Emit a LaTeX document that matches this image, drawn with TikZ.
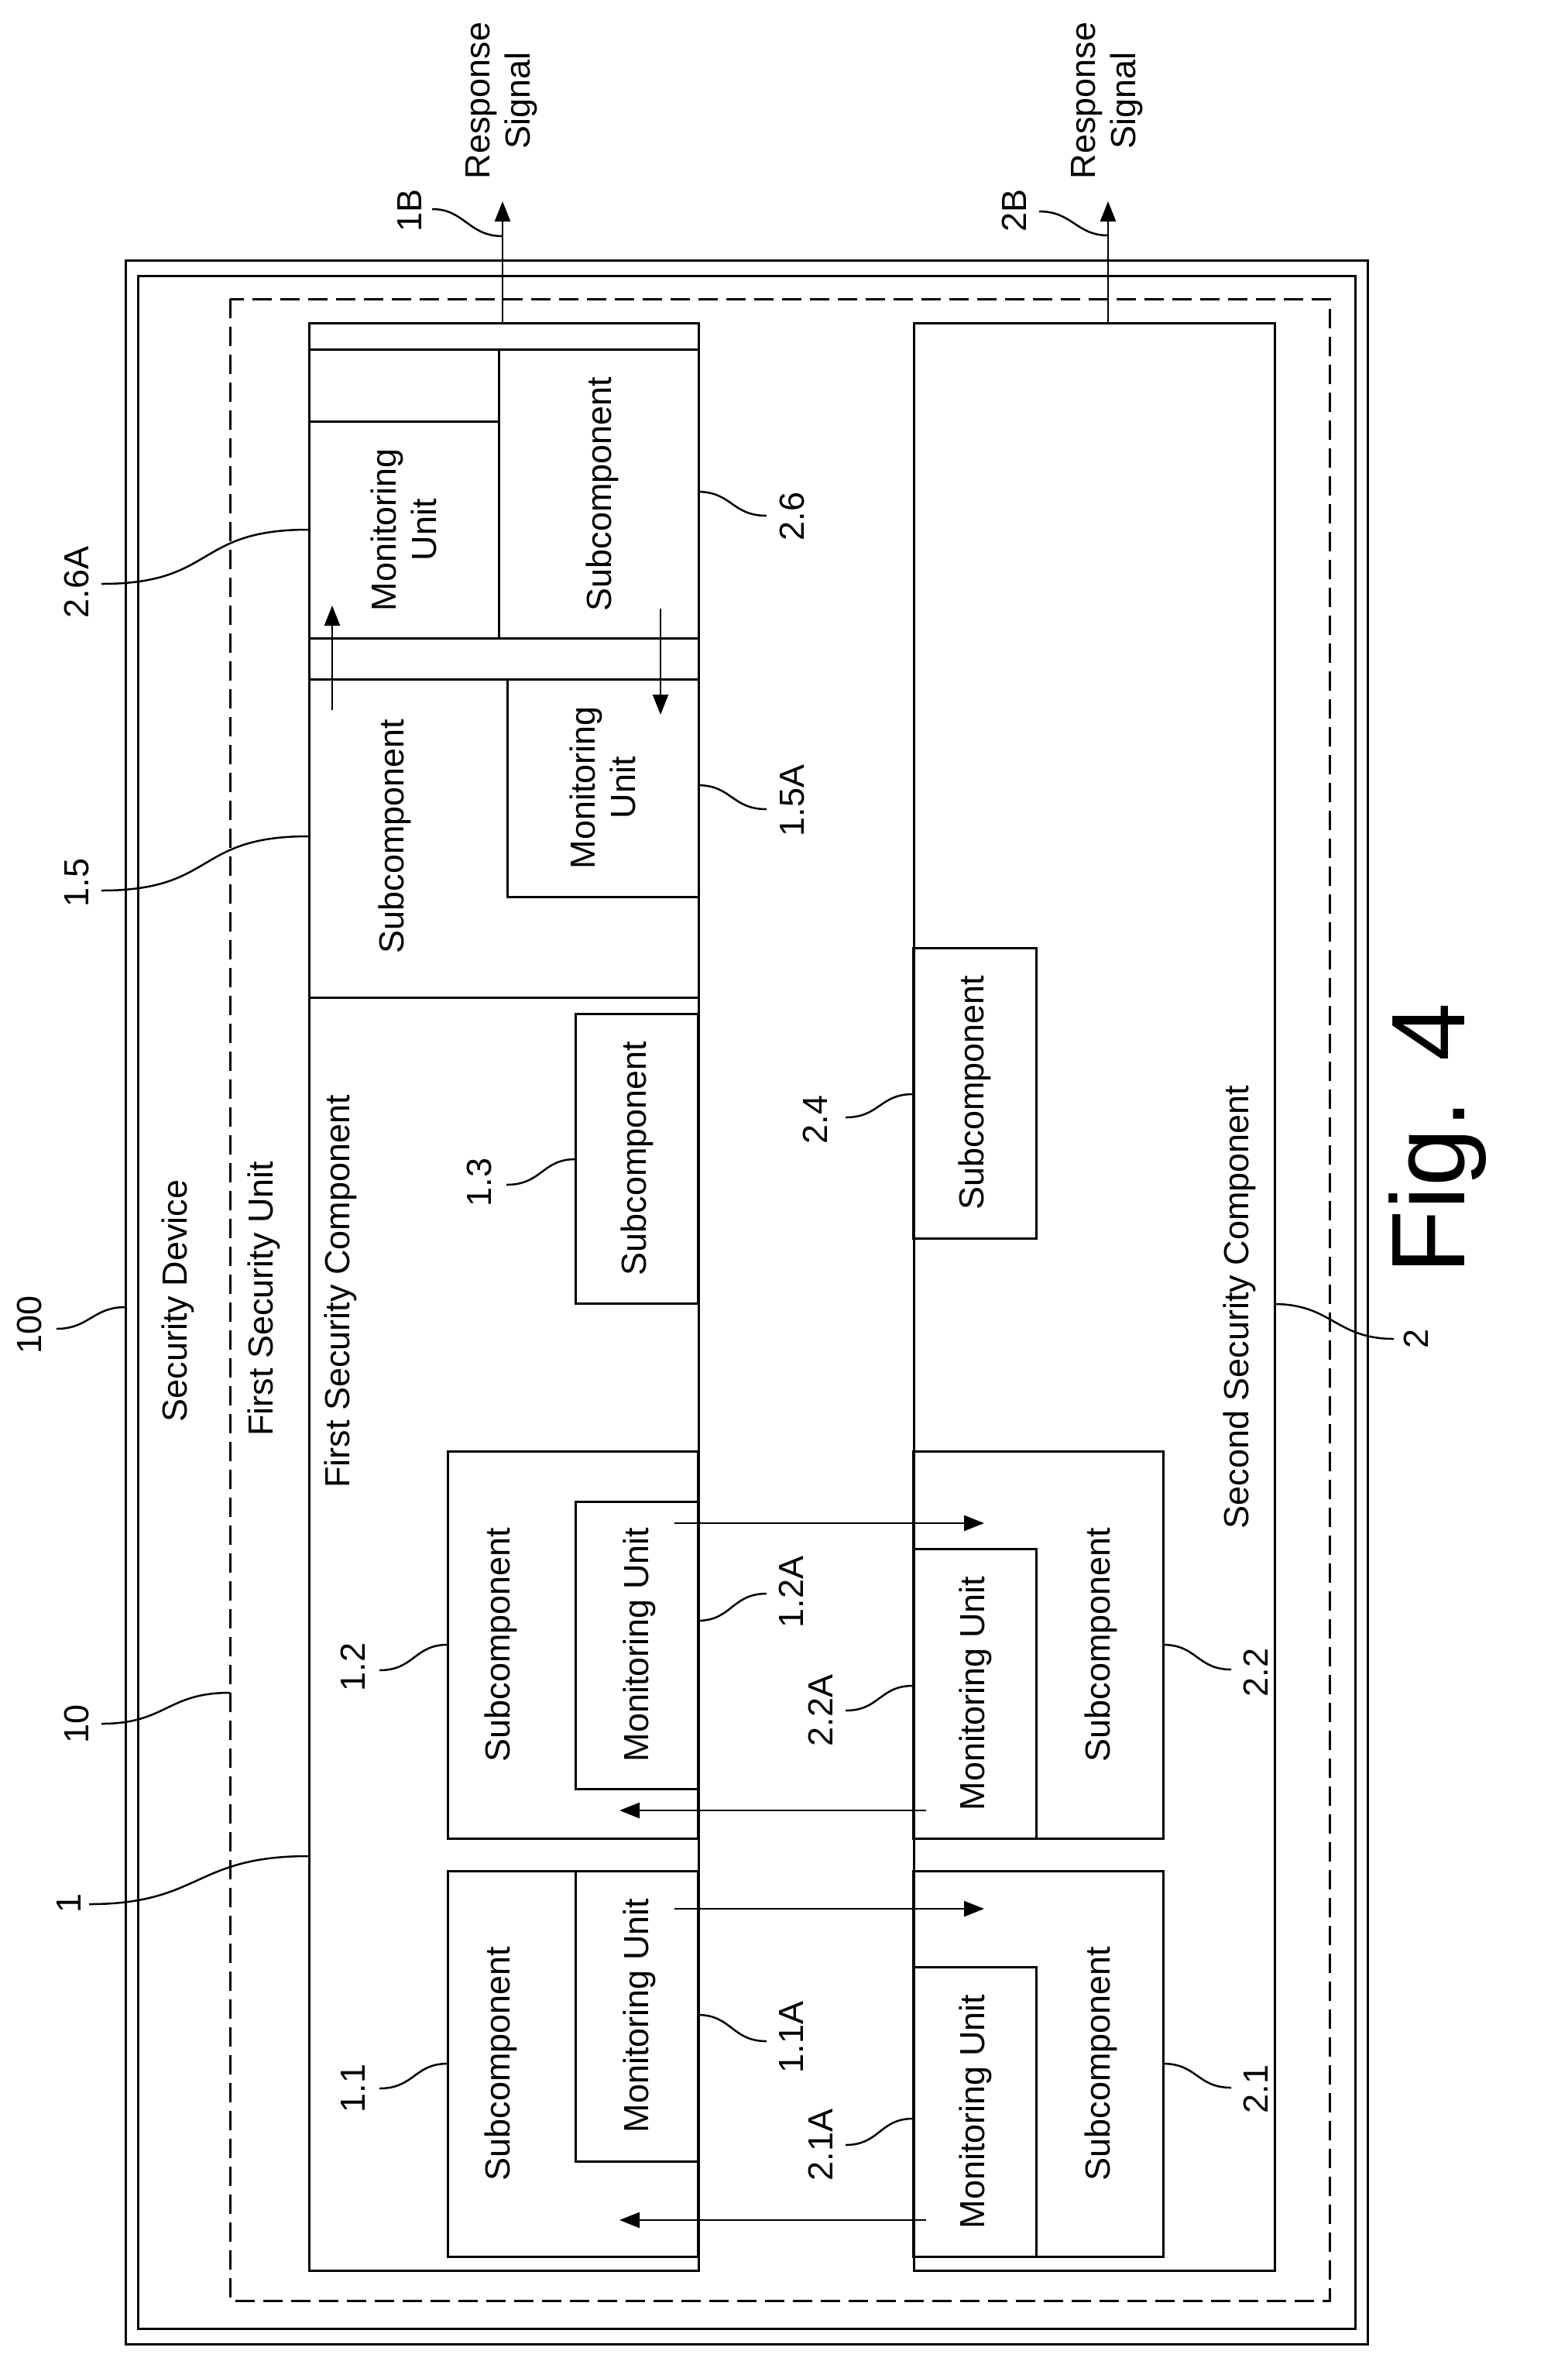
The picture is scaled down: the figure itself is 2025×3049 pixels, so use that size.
\documentclass[tikz,border=0pt]{standalone}
\usepackage{fontspec}
\setmainfont{Liberation Sans}
\usetikzlibrary{arrows.meta}
\begin{document}
\begin{tikzpicture}[x=1pt,y=-1pt,line width=3pt,
  box/.style={draw},
  txt/.style={rotate=90,font=\fontsize{45}{52}\selectfont,inner sep=0pt,align=center},
  lbl/.style={rotate=90,font=\fontsize{45}{52}\selectfont,inner sep=0pt},
  arr/.style={-{Triangle[length=26pt,width=20pt]}},
  lead/.style={line width=2.5pt}]
\useasboundingbox (0,0) rectangle (2025,3049);
% outer frames
\draw (162,336) rectangle (1766,3027);
\draw (178,356) rectangle (1750,3007);
\draw[dash pattern=on 25pt off 11pt] (297,386) rectangle (1717,2971);
% first component
\node[box,minimum width=503pt,minimum height=2515pt,anchor=north west,inner sep=0pt] (c1) at (398,416) {};
\draw (398,451) -- (901,451);
\draw (398,824) -- (901,824);
\draw (398,877) -- (901,877);
\draw (398,1288) -- (901,1288);
% second component
\node[box,minimum width=466pt,minimum height=2515pt,anchor=north west,inner sep=0pt] (c2) at (1179,416) {};
% 2.6 region
\draw (644,451) -- (644,824);
\draw (398,544) -- (644,544);
\node[txt] (m26) at (521,684) {Monitoring\\Unit};
\node[txt] (s26) at (778,638) {Subcomponent};
% 1.5 region
\draw (655,877) -- (655,1158) -- (901,1158);
\node[txt] (m15) at (778,1017) {Monitoring\\Unit};
\node[txt] (s15) at (510,1080) {Subcomponent};
\coordinate (u1) at (429,917); \coordinate (u2) at (429,782);
\draw[arr,line width=2.5pt] (u1) -- (u2);
\coordinate (d1) at (853,786); \coordinate (d2) at (853,923);
\draw[arr,line width=2.5pt] (d1) -- (d2);
% 1.3
\draw (743,1309) rectangle (901,1683);
\node[txt] (s13) at (823,1496) {Subcomponent};
% 1.2
\draw (578,1874) rectangle (901,2374);
\draw (743,1939) rectangle (901,2310);
\node[txt] (s12) at (647,2124) {Subcomponent};
\node[txt] (m12) at (826,2124) {Monitoring Unit};
% 1.1
\draw (578,2416) rectangle (901,2914);
\draw (743,2416) rectangle (901,2791);
\node[txt] (s11) at (647,2665) {Subcomponent};
\node[txt] (m11) at (826,2603) {Monitoring Unit};
% 2.4
\draw (1179,1224) rectangle (1338,1599);
\node[txt] (s24) at (1259,1411) {Subcomponent};
% 2.2
\draw (1179,1874) rectangle (1502,2374);
\draw (1179,2000) rectangle (1338,2374);
\node[txt] (s22) at (1422,2124) {Subcomponent};
\node[txt] (m22) at (1260,2187) {Monitoring Unit};
% 2.1
\draw (1179,2416) rectangle (1502,2914);
\draw (1179,2540) rectangle (1338,2914);
\node[txt] (s21) at (1422,2665) {Subcomponent};
\node[txt] (m21) at (1260,2727) {Monitoring Unit};
% cross arrows
\draw[arr,line width=2.5pt] (871,1967) -- (1271,1967);
\draw[arr,line width=2.5pt] (1196,2338) -- (800,2338);
\draw[arr,line width=2.5pt] (871,2465) -- (1271,2465);
\draw[arr,line width=2.5pt] (1196,2867) -- (800,2867);
% titles
\node[txt] (tSD) at (230,1680) {Security Device};
\node[txt] (tSU) at (341,1677) {First Security Unit};
\node[txt] (tC1) at (440,1668) {First Security Component};
\node[txt] (tC2) at (1601,1688) {Second Security Component};
\node[rotate=90,font=\fontsize{135}{150}\selectfont,inner sep=0pt] (fig) at (1857,1470) {Fig. 4};
% response signals
\coordinate (r1) at (649,260); \coordinate (r2) at (1431,260);
\draw[arr,line width=2.5pt] (649,416) -- (r1);
\draw[arr,line width=2.5pt] (1431,416) -- (r2);
\node[txt] (rs1) at (648,130) {Response\\Signal};
\node[txt] (rs2) at (1430,130) {Response\\Signal};
% labels
\node[lbl] (L1B) at (529,272) {1B};
\node[lbl] (L2B) at (1310,272) {2B};
\node[lbl] (L26A) at (99,752) {2.6A};
\node[lbl] (L15) at (99,1140) {1.5};
\node[lbl] (L100) at (38,1711) {100};
\node[lbl] (L10) at (99,2226) {10};
\node[lbl] (L1) at (89,2458) {1};
\node[lbl] (L13) at (619,1527) {1.3};
\node[lbl] (L12) at (456,2153) {1.2};
\node[lbl] (L11) at (456,2697) {1.1};
\node[lbl] (L26) at (1023,667) {2.6};
\node[lbl] (L15A) at (1023,1034) {1.5A};
\node[lbl] (L12A) at (1022,2056) {1.2A};
\node[lbl] (L11A) at (1022,2631) {1.1A};
\node[lbl] (L24) at (1053,1446) {2.4};
\node[lbl] (L22A) at (1060,2209) {2.2A};
\node[lbl] (L21A) at (1060,2770) {2.1A};
\node[lbl] (L22) at (1622,2160) {2.2};
\node[lbl] (L21) at (1622,2698) {2.1};
\node[lbl] (L2) at (1829,1729) {2};
% leaders
\begin{scope}[lead]
\draw (558,270) .. controls (600,270) and (605,305) .. (649,305);
\draw (1342,273) .. controls (1385,273) and (1390,304) .. (1431,304);
\draw (131,754) .. controls (280,754) and (250,684) .. (398,684);
\draw (131,1150) .. controls (280,1150) and (250,1080) .. (398,1080);
\draw (73,1716) .. controls (115,1716) and (120,1688) .. (162,1688);
\draw (131,2226) .. controls (215,2226) and (215,2186) .. (297,2186);
\draw (115,2459) .. controls (260,2459) and (250,2397) .. (398,2397);
\draw (654,1530) .. controls (700,1530) and (700,1497) .. (743,1497);
\draw (490,2157) .. controls (535,2157) and (535,2124) .. (578,2124);
\draw (490,2697) .. controls (535,2697) and (535,2665) .. (578,2665);
\draw (901,635) .. controls (945,635) and (945,666) .. (990,666);
\draw (901,1014) .. controls (945,1014) and (945,1045) .. (990,1045);
\draw (901,2093) .. controls (945,2093) and (945,2058) .. (990,2058);
\draw (901,2602) .. controls (945,2602) and (945,2636) .. (990,2636);
\draw (1092,1443) .. controls (1136,1443) and (1136,1413) .. (1179,1413);
\draw (1092,2209) .. controls (1136,2209) and (1136,2177) .. (1179,2177);
\draw (1092,2770) .. controls (1136,2770) and (1136,2736) .. (1179,2736);
\draw (1502,2124) .. controls (1546,2124) and (1546,2156) .. (1590,2156);
\draw (1502,2665) .. controls (1546,2665) and (1546,2696) .. (1590,2696);
\draw (1645,1684) .. controls (1720,1684) and (1725,1729) .. (1800,1729);
\end{scope}
\end{tikzpicture}
\end{document}
